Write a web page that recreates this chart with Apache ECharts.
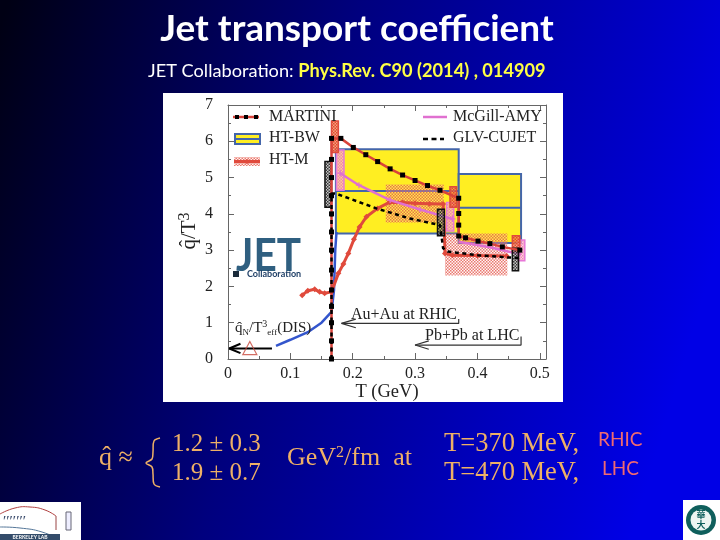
<!DOCTYPE html>
<html><head><meta charset="utf-8">
<style>html,body{margin:0;padding:0;background:#000}#c{width:720px;height:540px}</style>
<script src="https://cdn.jsdelivr.net/npm/echarts@6/dist/echarts.min.js"></script>
</head><body><div id="c"></div>
<script>
// ---- data: [T, qhat/T^3]
var martini = [[0.166,0],[0.166,0.5],[0.166,1],[0.166,1.45],[0.166,1.9],[0.166,2.45],[0.166,3],[0.166,3.5],[0.166,4],[0.166,4.5],[0.166,5],[0.166,5.5],[0.166,6.08],[0.181,6.08],[0.201,5.83],[0.221,5.63],[0.24,5.44],[0.26,5.24],[0.28,5.07],[0.30,4.92],[0.32,4.78],[0.34,4.65],[0.37,4.43],[0.37,4.01],[0.37,3.69],[0.37,3.39],[0.381,3.34],[0.401,3.25],[0.42,3.18],[0.44,3.09],[0.468,3.0]];
var htBwCurve = [[0.077,0.36],[0.1,0.53],[0.129,0.75],[0.15,1.0],[0.166,1.30],[0.170,1.9],[0.172,3.0],[0.174,3.5]];
var htM = [[0.119,1.76],[0.128,1.88],[0.139,1.92],[0.147,1.85],[0.155,1.81],[0.166,1.85],[0.177,2.36],[0.185,2.62],[0.193,2.91],[0.202,3.3],[0.211,3.64],[0.222,3.92],[0.24,4.15],[0.259,4.32],[0.28,4.31],[0.30,4.29],[0.323,4.28],[0.345,4.27],[0.347,3.55],[0.348,2.91],[0.36,2.86],[0.40,2.85],[0.447,2.84]];
var mcGillRhic = [[0.18,5.12],[0.21,4.79],[0.26,4.38],[0.308,4.12],[0.36,3.86]];
var mcGillLhc = [[0.37,3.23],[0.42,3.08],[0.47,2.88]];
var glv = [[0.166,0],[0.166,2.3],[0.166,4.56],[0.173,4.56],[0.238,4.15],[0.292,3.87],[0.34,3.69],[0.345,3.05],[0.353,2.96],[0.401,2.86],[0.448,2.80],[0.47,2.78]];
// boxes: [T0, T1, y0, y1]
var htBwBoxes = [[0.173,0.37,3.46,5.78],[0.37,0.47,3.2,5.10]];
var htBwCentres = [[[0.173,4.63],[0.37,4.63]],[[0.37,4.17],[0.47,4.17]]];
var htMBands = [[0.253,0.346,3.76,4.81],[0.348,0.448,2.30,3.46]];
var martiniBoxes = [[0.166,0.177,5.69,6.56],[0.356,0.3665,4.18,4.75],[0.456,0.468,2.97,3.40]];
var mcGillBoxes = [[0.174,0.186,4.65,5.76],[0.3505,0.362,3.53,4.31],[0.465,0.476,2.71,3.28]];
var glvBoxes = [[0.1555,0.166,4.18,5.44],[0.336,0.347,3.40,4.13],[0.456,0.466,2.43,3.05]];
var rhicArrow = [[[0.37,1.10],[0.37,0.98],[0.182,0.98]],[[0.205,1.10],[0.182,0.98],[0.205,0.86]]];
var lhcArrow = [[[0.47,0.62],[0.47,0.385],[0.30,0.385]],[[0.322,0.50],[0.30,0.385],[0.322,0.27]]];
var disArrow = [[[0.0705,0.29],[0.002,0.29]],[[0.02,0.42],[0.002,0.29],[0.02,0.16]]];
var disPoint = [[0.035,0.30]];
var xTicks = {min:0,max:0.51,interval:0.1};
var yTicks = {min:0,max:7,interval:1};

function hatch(c1,c2,s){var k=document.createElement('canvas');s=s||4;k.width=k.height=s;var g=k.getContext('2d');
  if(c2){g.fillStyle=c2;g.fillRect(0,0,s,s);}
  g.fillStyle=c1;g.fillRect(0,0,s/2,s/2);g.fillRect(s/2,s/2,s/2,s/2);
  return {image:k,repeat:'repeat'};}

function boxes(name,rows,fill,stroke,lw,z){
  return {type:'custom',name:name,z:z,silent:true,clip:false,data:rows,encode:{x:[0,1],y:[2,3]},
    renderItem:function(p,api){
      var a=api.coord([api.value(0),api.value(3)]),b=api.coord([api.value(1),api.value(2)]);
      return {type:'rect',shape:{x:a[0],y:a[1],width:b[0]-a[0],height:b[1]-a[1]},style:{fill:fill,stroke:stroke,lineWidth:lw}};
    }};
}
function line(name,data,color,w,z,extra){
  var s={type:'line',name:name,data:data,z:z,silent:true,clip:false,symbol:'none',showAllSymbol:true,animation:false,
    lineStyle:{color:color,width:w},itemStyle:{color:color}};
  for(var k in (extra||{}))s[k]=extra[k];return s;
}
var series=[];
series.push(boxes('HT-BW',htBwBoxes,'#ffee22','#4466aa',2,2));
htBwCentres.forEach(function(d){series.push(line('HT-BW',d,'#4466aa',2,3));});
series.push(boxes('HT-M',htMBands,hatch('rgba(225,80,70,0.75)','rgba(255,220,210,0.25)',3),'none',0,4));
series.push(line('HT-BW',htBwCurve,'#3355cc',2.5,5));
series.push(line('HT-M',htM,'#e04a3c',3,6,{symbol:'diamond',symbolSize:6}));
series.push(boxes('McGill-AMY',mcGillBoxes,hatch('rgba(240,110,170,0.75)','rgba(250,190,210,0.7)',3),'#e878d8',1.5,7));
series.push(line('McGill-AMY',mcGillRhic,'#e070d0',2.5,8,{symbol:'path://M0 4H10V6H0Z M4 0H6V10H4Z',symbolSize:6}));
series.push(line('McGill-AMY',mcGillLhc,'#e070d0',2.5,8));
series.push(boxes('MARTINI',martiniBoxes,hatch('rgba(225,70,40,0.95)','rgba(240,130,90,0.75)',3),'#e04a3c',1.5,9));
series.push(line('MARTINI',martini,'#d9433a',2.5,10));
series.push(line('MARTINI',martini,'rgba(0,0,0,0)',0,12,{symbol:'rect',symbolSize:5,itemStyle:{color:'#000'},lineStyle:{width:0,opacity:0}}));
series.push(boxes('GLV-CUJET',glvBoxes,hatch('rgba(30,30,30,0.85)','rgba(150,150,150,0.55)',3),'#111',1.5,10));
series.push(line('GLV-CUJET',glv,'#000',2.5,11,{lineStyle:{color:'#000',width:2.5,type:[4,3.5]}}));
rhicArrow.concat(lhcArrow).forEach(function(d,i){series.push(line(i<2?'Au+Au at RHIC':'Pb+Pb at LHC',d,'#333',1.2,13));});
disArrow.forEach(function(d){series.push(line('DIS',d,'#000',2,13));});
series.push({type:'scatter',name:'DIS',data:disPoint,z:14,silent:true,symbol:'triangle',symbolSize:[14,13],
  itemStyle:{color:'rgba(0,0,0,0)',borderColor:'#c8483c',borderWidth:1.2}});

var serif='"Liberation Serif",serif', lato='Lato,sans-serif', ink='#222', orange='#eeb066';
function T(x,y,text,size,color,o){o=o||{};
  return {type:'text',x:x,y:y,z:o.z==null?100:o.z,rotation:o.rotation||0,scaleX:o.scaleX||1,scaleY:o.scaleY||1,silent:true,style:{text:text,font:(o.weight||'normal')+' '+size+'px '+(o.family||serif),fill:color,align:o.align||'left',verticalAlign:'middle',rich:o.rich}};
}
function R(x,y,w,h,fill,stroke,lw,z){return {type:'rect',z:z==null?100:z,silent:true,shape:{x:x,y:y,width:w,height:h},style:{fill:fill,stroke:stroke||'none',lineWidth:lw||0}};}
function L(x1,y1,x2,y2,c,w,dash){return {type:'line',z:100,silent:true,shape:{x1:x1,y1:y1,x2:x2,y2:y2},style:{stroke:c,lineWidth:w,lineDash:dash||null}};}
function D(x,y,c){return {type:'circle',z:101,silent:true,shape:{cx:x,cy:y,r:2.2},style:{fill:c}};}
function serifRich(size){return {
  n:{font:size+'px '+serif,fill:ink,padding:[0,0,0,0]},
  sup:{font:(size-5)+'px '+serif,fill:ink,verticalAlign:'top',padding:[0,0,0,0],lineHeight:size+3},
  sub:{font:(size-6)+'px '+serif,fill:ink,verticalAlign:'bottom',lineHeight:size+3}};}

var gfx=[
  R(163,93,400,309,'#fff',null,0,-10),
  // titles
  T(357,29,'Jet transport coefficient',37,'#fff',{align:'center',family:lato,weight:'bold'}),
  {type:'text',x:148,y:71,z:100,silent:true,style:{text:'{a|JET Collaboration: }{b|Phys.Rev. C90 (2014) , 014909}',verticalAlign:'middle',
    rich:{a:{font:'18.2px '+lato,fill:'#fff'},b:{font:'bold 18.2px '+lato,fill:'#ffff44'}}}},
  // legend
  L(233,117,259,117,'#d9433a',2.5),
  R(235,115,4,4,'#000'),R(244,115,4,4,'#000'),R(254,115,4,4,'#000'),
  T(269,117,'MARTINI',16,ink),
  R(235,134,25,10,'#ffee22','#4466aa',2),L(235,139,260,139,'#4466aa',2),
  T(269,138,'HT-BW',16,ink),
  R(234,157,26,9,hatch('rgba(225,80,70,0.75)','rgba(255,220,210,0.4)',3)),
  L(234,161.5,260,161.5,'#e04a3c',3),
  D(247,161.5,'#e04a3c'),
  T(269,160,'HT-M',16,ink),
  L(423,117,447,117,'#e070d0',2.5),
  T(453,117,'McGill-AMY',16,ink),
  L(423,139,444,139,'#000',2.5,[5,3.5]),
  T(453,138,'GLV-CUJET',16,ink),
  // axis title
  {type:'text',x:189,y:231,z:100,rotation:Math.PI/2,silent:true,style:{text:'{n|q\u0302/T}{sup|3}',align:'center',verticalAlign:'middle',rich:serifRich(21)}},
  // annotations
  T(351,315,'Au+Au at RHIC',16,ink),
  T(425,336,'Pb+Pb at LHC',16,ink),
  {type:'text',x:235,y:328,z:100,silent:true,style:{text:'{n|q\u0302}{sub|N}{n|/T}{sup|3}{sub|eff}{n|(DIS)}',verticalAlign:'middle',rich:serifRich(15)}},
  // JET logo
  T(236,256,'JET',45,'#2f5f80',{family:lato,weight:'bold',scaleX:0.9}),
  R(233,271,6,6,'#1a2a3a'),
  T(247,274,'Collaboration',9,'#1f3f66',{family:lato,weight:'bold'}),
  // formula
  T(99,458,'q\u0302 \u2248',26,orange,{family:serif}),
  {type:'polyline',z:100,silent:true,shape:{points:[[160,438],[154,441],[153,452],[152,459],[146,463],[152,467],[153,474],[154,484],[160,487]],smooth:0.35},style:{stroke:orange,lineWidth:1.5,fill:'none'}},
  T(172,444,'1.2 \u00b1 0.3',25,orange),
  T(172,473,'1.9 \u00b1 0.7',25,orange),
  {type:'text',x:287,y:458,z:100,silent:true,style:{text:'{n|GeV}{s|2}{n|/fm  at}',verticalAlign:'middle',rich:{n:{font:'26px '+serif,fill:orange},s:{font:'16px '+serif,fill:orange,verticalAlign:'top',lineHeight:26}}}},
  T(444,444,'T=370 MeV,',26.5,orange),
  T(444,473,'T=470 MeV,',26.5,orange),
  T(598,440,'RHIC',19,'#f06a70',{family:lato}),
  T(602,469,'LHC',19,'#f06a70',{family:lato}),
  // logos
  R(0,502,81,38,'#fff'),
  {type:'polyline',z:100,silent:true,shape:{points:[[0,514],[15,508],[30,507],[45,510],[56,516]],smooth:0.5},style:{stroke:'#b04040',lineWidth:1,fill:'none'}},
  {type:'polyline',z:100,silent:true,shape:{points:[[0,527],[20,528],[42,532],[60,540]],smooth:0.5},style:{stroke:'#557799',lineWidth:1,fill:'none'}},
  L(56,516,56,530,'#994444',1),
  T(3,522,'\u2032\u2032\u2032\u2032\u2032\u2032\u2032',15,'#334466'),
  R(66,512,5,18,'#eef','#667',1),
  R(0,534,60,6,'#334c6a'),
  T(30,537,'BERKELEY LAB',5,'#fff',{align:'center',family:lato,weight:'bold'}),
  R(683,500,37,40,'#fff'),
  {type:'circle',z:100,silent:true,shape:{cx:701,cy:520,r:15},style:{fill:'#0f5f5c'}},
  {type:'circle',z:100,silent:true,shape:{cx:701,cy:520,r:10.5},style:{fill:'#eef5f2'}},
  T(701,515,'\u83ef',9,'#0f5f5c',{align:'center',family:'"Noto Sans CJK TC"',weight:'bold'}),
  T(701,525,'\u5927',9,'#0f5f5c',{align:'center',family:'"Noto Sans CJK TC"',weight:'bold'})
];

function axis(base,pos,labels,margin,extra){
  var a={type:'value',min:base.min,max:base.max,interval:base.interval,position:pos,
    axisLine:{show:true,onZero:false,lineStyle:{color:'#666',width:1}},
    axisTick:{show:true,inside:true,length:6,lineStyle:{color:'#666'}},
    minorTick:{show:true,splitNumber:2,length:3,lineStyle:{color:'#666'}},
    splitLine:{show:false},
    axisLabel:{show:labels,color:ink,fontFamily:serif,fontSize:16,showMaxLabel:base.max===7,margin:margin}};
  for(var k in (extra||{}))a[k]=extra[k];return a;
}
var chart=echarts.init(document.getElementById('c'),null,{renderer:'canvas'});
chart.setOption({
  animation:false,
  backgroundColor:{type:'linear',x:0,y:0.05,x2:1,y2:0.45,colorStops:[{offset:0,color:'#000014'},{offset:0.45,color:'#00007e'},{offset:1,color:'#0000e6'}]},
  grid:{left:228,top:105,width:318,height:254,containLabel:false},
  xAxis:[axis(xTicks,'bottom',true,7,{name:'T (GeV)',nameLocation:'middle',nameGap:23,nameTextStyle:{color:ink,fontFamily:serif,fontSize:18.5}}),axis(xTicks,'top',false,0)],
  yAxis:[axis(yTicks,'left',true,15),axis(yTicks,'right',false,0)],
  series:series,
  graphic:{elements:gfx}
});
</script></body></html>
